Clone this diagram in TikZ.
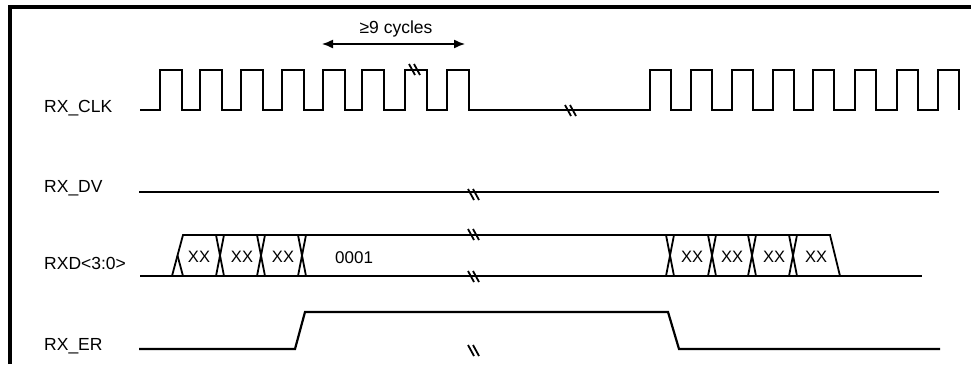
\documentclass[tikz,border=0pt]{standalone}
\usepackage{fontspec}
\setmainfont{Liberation Sans}
\usetikzlibrary{arrows.meta}

\begin{document}
\begin{tikzpicture}[x=1pt,y=-1pt,line join=miter,
        wave/.style={line width=2.2pt},
        bus/.style={line width=1.8pt},
        sig/.style={anchor=base west,inner sep=0pt,font=\fontsize{17.5}{20}\selectfont},
        val/.style={anchor=base,inner sep=0pt,font=\fontsize{16.5}{19}\selectfont},
        cut/.pic={\draw[line width=1.8pt] (-6,-5) -- (0,6) (-1,-5) -- (5,6);}]
        \useasboundingbox (0,0) rectangle (971,364);
        \draw[line width=4pt] (10,364) -- (10,7) -- (971,7);

        \node[sig] (clk) at (44,112) {RX\_CLK};
        \node[sig] (dv) at (44,192) {RX\_DV};
        \node[sig] (rxd) at (44,269) {RXD<3:0>};
        \node[sig] (er) at (44,350) {RX\_ER};

        % clock, two bursts
        \draw[wave] (140,110) foreach \r in {160,200,241,282,323,362,405,447} {-- (\r,110) -- (\r,70) -- (\r+22,70) -- (\r+22,110)}
            -- (650,110) foreach \r in {650,691,732,773,813,855,897,938} {-- (\r,110) -- (\r,70) -- (\r+21,70) -- (\r+21,110)};
        \coordinate (from) at (322,44);
        \coordinate (to) at (465,44);
        \draw[{Latex[length=11pt,width=9pt]}-{Latex[length=11pt,width=9pt]},line width=1.4pt] (from) -- (to);
        \node[val,font=\fontsize{17.5}{20}\selectfont] (cyc) at (396,33) {≥9 cycles};

        \draw[wave] (139,192) -- (939,192);

        % data bus
        \draw[bus] (140,276) -- (922,276);
        \draw[bus] (172,276) -- (183,235) -- (830,235) -- (840,276);
        \draw[bus] (177.5,255.5) -- (183,276);
        \foreach \c in {220,261,302,670,712,752,793}
            \draw[bus] (\c-4,235) -- (\c+4,276) (\c+4,235) -- (\c-4,276);
        \foreach \x [count=\i] in {199,242,283,692,732,774,816}
            \node[val] (xx\i) at (\x,262) {XX};
        \node[sig,font=\fontsize{17}{20}\selectfont] (d1) at (335,263) {0001};

        \draw[wave] (139,349) -- (295,349) -- (305,312) -- (668,312) -- (679,349) -- (940,349);

        % breaks
        \foreach \p in {(415,69),(571,110),(474,194),(474,234),(474,276),(474,350)}
            \pic at \p {cut};
    \end{tikzpicture}
\end{document}
